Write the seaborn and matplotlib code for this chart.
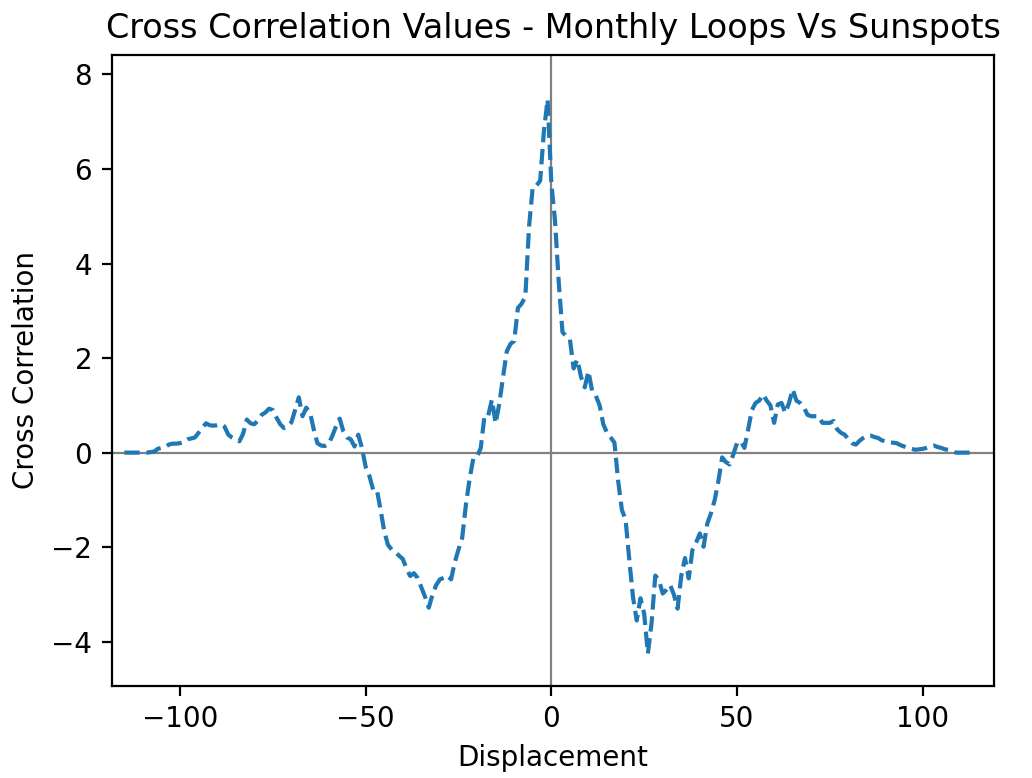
import matplotlib
matplotlib.use("Agg")
import matplotlib.pyplot as plt
import seaborn as sns
import numpy as np
import pandas as pd

# displacement (lag) values, one per month
displacement = list(range(-115, 114))

# cross correlation, lag -115 .. 113
cross_corr = [
    0.0, 0.0, 0.0, 0.0, 0.0, 0.0, 0.0, 0.01, 0.02, 0.08,          # -115 .. -106
    0.1, 0.12, 0.17, 0.19, 0.19, 0.2, 0.22, 0.28, 0.3, 0.32,       # -105 .. -96
    0.42, 0.52, 0.62, 0.58, 0.57, 0.58, 0.6, 0.55, 0.38, 0.32,     # -95 .. -86
    0.28, 0.24, 0.4, 0.7, 0.62, 0.6, 0.68, 0.8, 0.85, 0.93,        # -85 .. -76
    0.9, 0.74, 0.6, 0.52, 0.55, 0.64, 0.9, 1.17, 0.77, 0.95,       # -75 .. -66
    0.85, 0.5, 0.2, 0.15, 0.14, 0.18, 0.35, 0.55, 0.72, 0.45,      # -65 .. -56
    0.32, 0.28, 0.13, 0.38, 0.1, -0.3, -0.49, -0.78, -0.78, -1.2,  # -55 .. -46
    -1.66, -1.95, -2.05, -2.1, -2.18, -2.25, -2.45, -2.61, -2.55, -2.65,  # -45 .. -36
    -2.85, -3.05, -3.28, -3.0, -2.8, -2.68, -2.65, -2.6, -2.68, -2.32,    # -35 .. -26
    -2.05, -1.8, -1.1, -0.55, -0.12, -0.09, 0.1, 0.78, 0.78, 1.12,        # -25 .. -16
    0.62, 1.04, 1.6, 2.14, 2.3, 2.36, 3.06, 3.15, 3.3, 4.78,       # -15 .. -6
    5.62, 5.65, 5.75, 6.8, 7.47, 5.7, 4.9, 3.6, 2.55, 2.46,        # -5 .. 4
    2.4, 1.78, 1.97, 1.6, 1.38, 1.72, 1.3, 1.2, 1.0, 0.6,          # 5 .. 14
    0.42, 0.32, 0.21, -0.6, -1.21, -1.42, -2.27, -3.06, -3.55, -3.08,     # 15 .. 24
    -3.4, -4.25, -3.6, -2.6, -2.7, -2.98, -2.9, -2.8, -3.0, -3.3,         # 25 .. 34
    -2.6, -2.23, -2.66, -2.06, -1.9, -1.71, -1.99, -1.5, -1.28, -1.0,     # 35 .. 44
    -0.6, -0.1, -0.2, -0.25, -0.04, 0.2, 0.24, 0.1, 0.49, 0.9,     # 45 .. 54
    1.05, 1.1, 1.23, 1.1, 1.0, 0.63, 1.02, 1.05, 0.84, 1.05,       # 55 .. 64
    1.34, 1.1, 1.05, 0.96, 0.8, 0.77, 0.77, 0.77, 0.63, 0.63,      # 65 .. 74
    0.63, 0.67, 0.49, 0.42, 0.38, 0.28, 0.2, 0.17, 0.25, 0.31,     # 75 .. 84
    0.36, 0.36, 0.33, 0.31, 0.26, 0.24, 0.22, 0.21, 0.2, 0.16,     # 85 .. 94
    0.13, 0.1, 0.08, 0.06, 0.07, 0.08, 0.1, 0.13, 0.15, 0.12,      # 95 .. 104
    0.1, 0.07, 0.06, 0.03, 0.0, 0.0, 0.0, 0.0, 0.0,                # 105 .. 113
]

df = pd.DataFrame({"Displacement": displacement, "Cross Correlation": cross_corr})

fig, ax = plt.subplots(figsize=(5.16, 3.89), dpi=200)
fig.subplots_adjust(left=0.1082, right=0.9635, top=0.9293, bottom=0.1186)

# ejes de referencia en cero
ax.axhline(0, color="grey", linewidth=0.8)
ax.axvline(0, color="grey", linewidth=0.8)

sns.lineplot(data=df, x="Displacement", y="Cross Correlation", ax=ax,
             color="#1f77b4", linestyle="--", linewidth=1.5)

ax.set_xlim(-118.4, 119.3)
ax.set_ylim(-4.93, 8.41)
ax.set_title("Cross Correlation Values - Monthly Loops Vs Sunspots")
ax.set_xlabel("Displacement")
ax.set_ylabel("Cross Correlation")

plt.savefig("out.png", dpi=200)
plt.close()
